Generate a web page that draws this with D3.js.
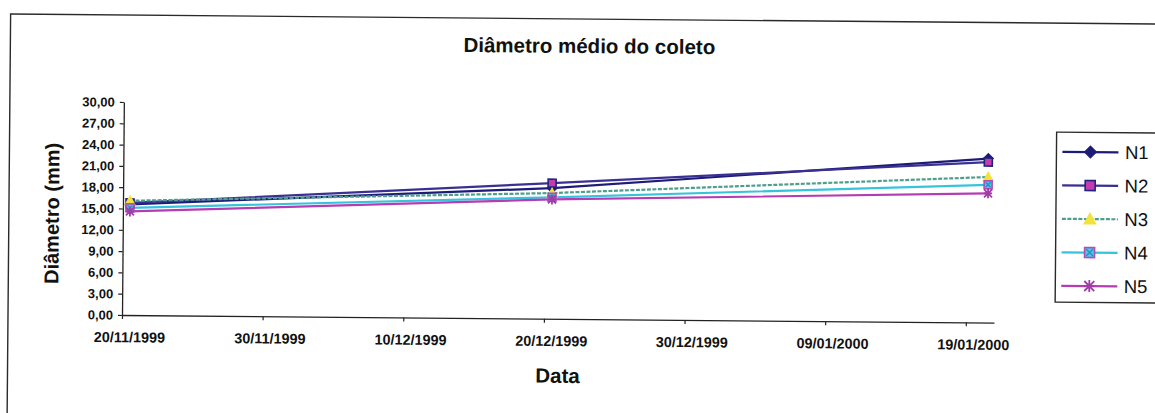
<!DOCTYPE html>
<html>
<head>
<meta charset="utf-8">
<script src="https://cdn.jsdelivr.net/npm/d3@7"></script>
<style>
  html, body { margin: 0; padding: 0; background: #fff; }
  svg { display: block; }
  text { font-family: "Liberation Sans", Arial, sans-serif; }
</style>
</head>
<body>
<svg id="chart" width="1155" height="413"></svg>
<script>
// ---- data ----
const dateLabels = ["20/11/1999", "20/12/1999", "20/01/2000"];
const seriesNames = ["N1", "N2", "N3", "N4", "N5"];
const n1 = [15.6, 18.4, 23.1];
const n2 = [15.8, 19.1, 22.6];
const n3 = [16.1, 17.7, 20.5];
const n4 = [15.1, 17.1, 19.4];
const n5 = [14.6, 16.8, 18.2];
const yTickValues = [0, 3, 6, 9, 12, 15, 18, 21, 24, 27, 30];
const xTickLabels = ["20/11/1999", "30/11/1999", "10/12/1999", "20/12/1999",
                     "30/12/1999", "09/01/2000", "19/01/2000"];
const xDomainLabels = ["20/11/1999", "21/01/2000"];
const titleText = "Diâmetro médio do coleto";
const xTitle = "Data";
const yTitle = "Diâmetro (mm)";

// ---- styles per series ----
const styles = [
  { line: "#1c1c78", dash: null,    marker: "diamond",  fill: "#1c1c78", stroke: "#1c1c78" },
  { line: "#3a2f92", dash: null,    marker: "square",   fill: "#c43cb0", stroke: "#23237e" },
  { line: "#4c9f8c", dash: "4,1.5", marker: "triangle", fill: "#f2e23a", stroke: "#f2e23a" },
  { line: "#36c4dc", dash: null,    marker: "xsquare",  fill: "#4cc8e2", stroke: "#b24cb8" },
  { line: "#b53cb3", dash: null,    marker: "star",     fill: "none",    stroke: "#a23aa8" }
];
const seriesValues = [n1, n2, n3, n4, n5];

const parse = d3.timeParse("%d/%m/%Y");
const fmtTick = d3.timeFormat("%d/%m/%Y");
const fmtY = v => d3.format(".2f")(v).replace(".", ",");
// dates sit in the middle of their day slot on the date axis
const dayMid = d => d3.timeHour.offset(d, 12);

const svg = d3.select("#chart");
const g = svg.append("g").attr("transform", "rotate(0.5,122,315)");

// chart area frame
g.append("rect")
  .attr("x", 8).attr("y", 15).attr("width", 1180).attr("height", 430)
  .attr("fill", "none").attr("stroke", "#2a2a2a").attr("stroke-width", 1.4);

// scales
const x = d3.scaleTime().domain(xDomainLabels.map(parse)).range([122, 994]);
const y = d3.scaleLinear().domain([0, 30]).range([315, 102]);

// title
g.append("text")
  .attr("x", 587).attr("y", 49)
  .attr("text-anchor", "middle")
  .attr("font-size", 20.5).attr("font-weight", "bold").attr("fill", "#111")
  .text(titleText);

// y axis
const yAxis = g.append("g")
  .attr("transform", "translate(122,0)")
  .call(d3.axisLeft(y).tickValues(yTickValues).tickFormat(fmtY)
        .tickSize(4).tickSizeOuter(0).tickPadding(5));
yAxis.select(".domain").attr("stroke", "#222").attr("stroke-width", 1.3);
yAxis.selectAll(".tick line").attr("stroke", "#222").attr("stroke-width", 1.2);
yAxis.selectAll(".tick text")
  .attr("font-size", 13).attr("font-weight", "bold").attr("fill", "#111")
  .style("font-family", "'Liberation Sans', Arial, sans-serif");

// x axis
const xAxis = g.append("g")
  .attr("transform", "translate(0,315)")
  .call(d3.axisBottom(x).tickValues(xTickLabels.map(parse)).tickFormat(fmtTick)
        .tickSize(4).tickSizeOuter(0));
xAxis.select(".domain").attr("stroke", "#222").attr("stroke-width", 1.3);
xAxis.selectAll(".tick line").attr("stroke", "#222").attr("stroke-width", 1.2);
xAxis.selectAll(".tick text")
  .attr("x", d => x(dayMid(d)) - x(d))
  .attr("y", 17).attr("dy", "0.71em")
  .attr("font-size", 14.4).attr("font-weight", "bold").attr("fill", "#111")
  .style("font-family", "'Liberation Sans', Arial, sans-serif");

// axis titles
g.append("text")
  .attr("x", 558).attr("y", 379)
  .attr("text-anchor", "middle")
  .attr("font-size", 20.5).attr("font-weight", "bold").attr("fill", "#111")
  .text(xTitle);
g.append("text")
  .attr("transform", "translate(58,214) rotate(-90)")
  .attr("text-anchor", "middle")
  .attr("font-size", 20).attr("font-weight", "bold").attr("fill", "#111")
  .text(yTitle);

// marker drawing
function drawMarker(sel, st, size) {
  const h = size / 2;
  if (st.marker === "diamond") {
    sel.append("path")
      .attr("d", `M0,${-h - 1}L${h + 1},0L0,${h + 1}L${-h - 1},0Z`)
      .attr("fill", st.fill).attr("stroke", st.stroke).attr("stroke-width", 1);
  } else if (st.marker === "square") {
    sel.append("rect")
      .attr("x", -h).attr("y", -h).attr("width", size).attr("height", size)
      .attr("fill", st.fill).attr("stroke", st.stroke).attr("stroke-width", 1.6);
  } else if (st.marker === "triangle") {
    sel.append("path")
      .attr("d", `M0,${-h - 1}L${h + 1},${h}L${-h - 1},${h}Z`)
      .attr("fill", st.fill).attr("stroke", st.stroke).attr("stroke-width", 1);
  } else if (st.marker === "xsquare") {
    sel.append("rect")
      .attr("x", -h).attr("y", -h).attr("width", size).attr("height", size)
      .attr("fill", st.fill).attr("stroke", st.stroke).attr("stroke-width", 1.6);
    sel.append("path")
      .attr("d", `M${-h + 1.5},${-h + 1.5}L${h - 1.5},${h - 1.5}M${h - 1.5},${-h + 1.5}L${-h + 1.5},${h - 1.5}`)
      .attr("stroke", "#2c8fc8").attr("stroke-width", 1.4);
  } else if (st.marker === "star") {
    sel.append("path")
      .attr("d", `M${-h},${-h}L${h},${h}M${h},${-h}L${-h},${h}M0,${-h - 1}L0,${h + 1}M${-h},0L${h},0`)
      .attr("stroke", st.stroke).attr("stroke-width", 1.8);
  }
}

// series lines and markers
const line = d3.line()
  .x(d => x(dayMid(parse(d.date))))
  .y(d => y(d.value));

seriesValues.forEach((vals, i) => {
  const st = styles[i];
  const pts = vals.map((v, j) => ({ date: dateLabels[j], value: v }));
  g.append("path")
    .datum(pts)
    .attr("d", line)
    .attr("fill", "none")
    .attr("stroke", st.line)
    .attr("stroke-width", 2.2)
    .attr("stroke-dasharray", st.dash);
});
seriesValues.forEach((vals, i) => {
  const st = styles[i];
  vals.forEach((v, j) => {
    const m = g.append("g")
      .attr("transform", `translate(${x(dayMid(parse(dateLabels[j])))},${y(v)})`);
    drawMarker(m, st, 8);
  });
});

// legend
const legend = g.append("g");
legend.append("rect")
  .attr("x", 1055).attr("y", 124).attr("width", 200).attr("height", 170)
  .attr("fill", "#fff").attr("stroke", "#2a2a2a").attr("stroke-width", 1.4);
seriesNames.forEach((name, i) => {
  const st = styles[i];
  const ly = 143.6 + i * 33.5;
  legend.append("line")
    .attr("x1", 1061).attr("x2", 1117).attr("y1", ly).attr("y2", ly)
    .attr("stroke", st.line).attr("stroke-width", 2.2)
    .attr("stroke-dasharray", st.dash);
  const m = legend.append("g").attr("transform", `translate(1089,${ly})`);
  drawMarker(m, st, 10);
  legend.append("text")
    .attr("x", 1123.5).attr("y", ly).attr("dy", "0.36em")
    .attr("font-size", 18.5).attr("fill", "#111")
    .text(name);
});
</script>
</body>
</html>
